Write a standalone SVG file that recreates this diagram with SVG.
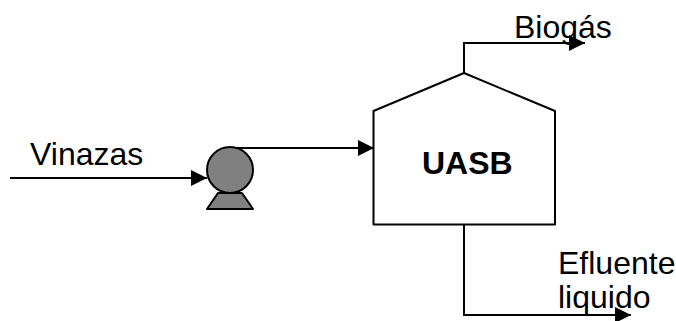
<svg xmlns="http://www.w3.org/2000/svg" width="676" height="321" viewBox="0 0 676 321">
<style>
text{font-family:"Liberation Sans",Arial,sans-serif;font-size:32px;fill:#000}
.c{fill:none;stroke:#000;stroke-width:2}
.s{stroke:#000;stroke-width:2;stroke-linejoin:round}
</style>
<defs>
<marker id="a" markerUnits="userSpaceOnUse" markerWidth="17" markerHeight="16" refX="16" refY="8" orient="auto"><path d="M0 0L16 8L0 16Z" fill="#000"/></marker>
</defs>
<rect width="676" height="321" fill="#fff"/>
<g id="connectors">
<path class="c" d="M10 178H207" marker-end="url(#a)"/>
<path class="c" d="M236 148H374" marker-end="url(#a)"/>
<path class="c" d="M464 73V43H585" marker-end="url(#a)"/>
<path class="c" d="M464 224V315H631" marker-end="url(#a)"/>
</g>
<g id="pump">
<path class="s" fill="#808080" d="M218 193H242L253 209H207Z"/>
<circle class="s" fill="#808080" cx="230" cy="170" r="23"/>
</g>
<g id="uasb">
<path class="s" fill="none" d="M373.500 111L464 73L555 111V224.500H373.500Z"/>
<text x="422" y="174" style="font-weight:bold">UASB</text>
</g>
<g id="labels">
<text x="30" y="165">Vinazas</text>
<text x="514" y="38">Biogás</text>
<text x="558" y="274">Efluente</text>
<text x="558" y="308">liquido</text>
</g>
</svg>
